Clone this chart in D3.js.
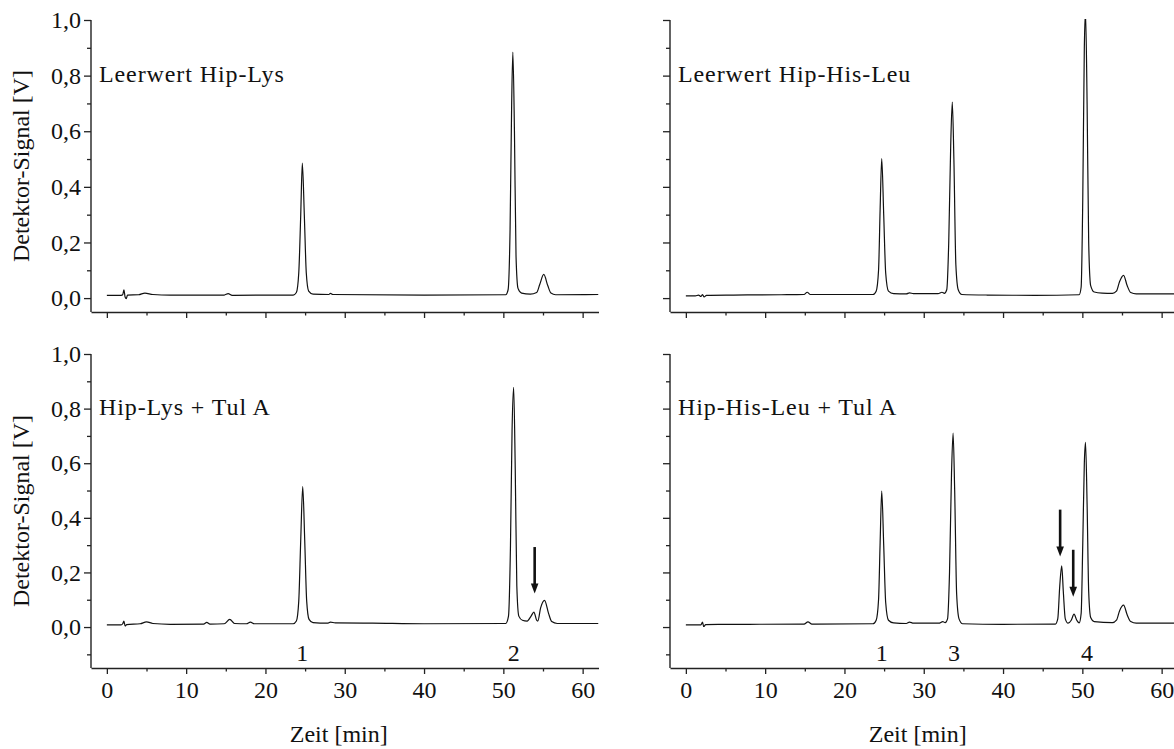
<!DOCTYPE html>
<html>
<head>
<meta charset="utf-8">
<script src="https://cdn.jsdelivr.net/npm/d3@7"></script>
<style>
  body { margin: 0; background: #fff; }
  svg text { font-family: "Liberation Serif", "DejaVu Serif", serif !important; fill: #111; }
</style>
</head>
<body>
<svg id="chart" width="1174" height="749"></svg>
<script>
// chromatogram traces, [time in min, signal in V]
const leerwertHipLys = [
  [0,0.010],[1.8,0.010],[2.0,0.012],[2.15,0.030],[2.3,0.004],[2.45,-0.002],[2.6,0.011],[4.0,0.012],[4.8,0.018],[5.8,0.013],
  [8,0.011],[14.8,0.011],[15.3,0.016],[15.8,0.010],[23.5,0.011],
  [23.9,0.02],[24.2,0.09],[24.45,0.30],[24.65,0.485],[24.9,0.30],[25.15,0.09],[25.45,0.025],[26.0,0.014],
  [28.0,0.013],[28.2,0.017],[28.5,0.013],[40,0.011],[50.3,0.012],
  [50.6,0.03],[50.85,0.25],[51.05,0.70],[51.2,0.885],[51.4,0.60],[51.6,0.15],[51.85,0.035],[52.3,0.018],[53.4,0.014],
  [54.2,0.02],[54.6,0.05],[55.1,0.085],[55.6,0.045],[56.0,0.018],[56.6,0.012],[62,0.013]
];
const leerwertHipHisLeu = [
  [0,0.008],[1.2,0.008],[1.6,0.011],[1.9,0.006],[2.1,0.013],[2.3,0.004],[2.6,0.010],[6,0.011],[12,0.012],
  [14.9,0.013],[15.3,0.021],[15.7,0.013],[23.6,0.013],
  [24.0,0.025],[24.3,0.10],[24.5,0.32],[24.7,0.502],[24.95,0.30],[25.2,0.09],[25.55,0.025],[26.2,0.016],
  [27.8,0.015],[28.2,0.019],[28.7,0.016],[31.8,0.016],[32.3,0.021],[32.6,0.017],
  [32.9,0.03],[33.15,0.2],[33.4,0.55],[33.6,0.705],[33.8,0.5],[34.05,0.12],[34.35,0.03],[34.8,0.013],
  [38,0.011],[44,0.010],[49.6,0.012],
  [49.85,0.04],[50.05,0.35],[50.25,0.9],[50.4,1.03],[50.6,0.7],[50.8,0.2],[51.05,0.045],[51.5,0.022],[52.5,0.018],[53.8,0.017],
  [54.3,0.025],[54.7,0.06],[55.2,0.082],[55.65,0.045],[56.1,0.02],[56.8,0.015],[62,0.015]
];
const hipLysTulA = [
  [0,0.008],[1.8,0.008],[2.0,0.012],[2.15,0.022],[2.3,0.004],[2.5,0.009],[4.2,0.012],[5.0,0.019],[5.8,0.013],[8,0.010],
  [12.2,0.011],[12.6,0.017],[13.0,0.011],[14.8,0.012],[15.5,0.028],[16.1,0.013],[17.6,0.012],[18.1,0.018],[18.6,0.012],[23.5,0.012],
  [23.9,0.022],[24.2,0.095],[24.45,0.32],[24.7,0.514],[24.95,0.32],[25.2,0.095],[25.5,0.028],[26.0,0.016],
  [27.8,0.014],[28.2,0.018],[28.8,0.015],[33.5,0.014],[40,0.012],[50.3,0.013],
  [50.65,0.04],[50.9,0.3],[51.1,0.72],[51.3,0.878],[51.5,0.58],[51.7,0.15],[51.95,0.04],[52.4,0.025],[53.0,0.022],
  [53.5,0.04],[53.85,0.055],[54.2,0.025],[54.35,0.022],[54.7,0.07],[55.2,0.098],[55.7,0.05],[56.1,0.02],[56.8,0.013],[62,0.013]
];
const hipHisLeuTulA = [
  [0,0.008],[1.9,0.008],[2.1,0.018],[2.25,0.002],[2.5,0.009],[8,0.010],[14.9,0.011],[15.4,0.019],[15.9,0.011],[23.6,0.012],
  [24.0,0.025],[24.3,0.10],[24.5,0.31],[24.7,0.498],[24.95,0.30],[25.2,0.09],[25.55,0.025],[26.2,0.015],
  [27.8,0.013],[28.2,0.018],[28.7,0.014],[31.9,0.014],[32.4,0.02],[32.7,0.016],
  [33.0,0.03],[33.25,0.2],[33.5,0.56],[33.7,0.71],[33.9,0.5],[34.15,0.12],[34.45,0.03],[34.9,0.012],
  [40,0.010],[46.6,0.011],
  [46.9,0.03],[47.15,0.15],[47.4,0.224],[47.6,0.13],[47.85,0.03],[48.2,0.014],
  [48.6,0.025],[48.95,0.047],[49.3,0.025],[49.6,0.015],
  [49.85,0.05],[50.05,0.3],[50.25,0.6],[50.4,0.676],[50.6,0.45],[50.8,0.13],[51.05,0.035],[51.5,0.02],[53.8,0.016],
  [54.3,0.025],[54.7,0.06],[55.2,0.08],[55.65,0.045],[56.1,0.02],[56.8,0.014],[62,0.014]
];

const panelTitles = ["Leerwert Hip-Lys", "Leerwert Hip-His-Leu", "Hip-Lys + Tul A", "Hip-His-Leu + Tul A"];

// peak numbers under the lower traces: [time, signal position, text]
const peakNumbersLys = [[24.65, -0.095, "1"], [51.3, -0.095, "2"]];
const peakNumbersHisLeu = [[24.7, -0.095, "1"], [33.8, -0.095, "3"], [50.6, -0.095, "4"]];

// arrows: [time, from signal, to signal]
const arrowsLys = [[53.95, 0.293, 0.123]];
const arrowsHisLeu = [[47.2, 0.43, 0.258], [48.85, 0.283, 0.111]];

const xMajor = [0, 10, 20, 30, 40, 50, 60];
const xMinor = [5, 15, 25, 35, 45, 55];
const yMajor = [0, 0.2, 0.4, 0.6, 0.8, 1.0];
const yMinorTop = [0.1, 0.3, 0.5, 0.7, 0.9];
const yMinorBottom = [-0.1, 0.1, 0.3, 0.5, 0.7, 0.9];

const svg = d3.select("#chart");
const fmt = d => d3.format(".1f")(d).replace(".", ",");
const FONT = '"Liberation Serif", "DejaVu Serif", serif';

const W = 507.5;
const rows = [
  { yDom: [-0.05, 1.0], y0: 312, y1: 20, minor: yMinorTop, xLabels: false },
  { yDom: [-0.15, 1.0], y0: 668, y1: 354, minor: yMinorBottom, xLabels: true }
];
const cols = [{ x0: 91, yLabels: true }, { x0: 670, yLabels: false }];

const panels = [
  { r: 0, c: 0, data: leerwertHipLys, title: panelTitles[0], nums: [], arrows: [] },
  { r: 0, c: 1, data: leerwertHipHisLeu, title: panelTitles[1], nums: [], arrows: [] },
  { r: 1, c: 0, data: hipLysTulA, title: panelTitles[2], nums: peakNumbersLys, arrows: arrowsLys },
  { r: 1, c: 1, data: hipHisLeuTulA, title: panelTitles[3], nums: peakNumbersHisLeu, arrows: arrowsHisLeu }
];

panels.forEach((p, i) => {
  const row = rows[p.r], col = cols[p.c];
  const x = d3.scaleLinear().domain([-2, 62]).range([col.x0, col.x0 + W]);
  const y = d3.scaleLinear().domain(row.yDom).range([row.y0, row.y1]);
  const g = svg.append("g").attr("font-family", FONT);

  g.append("clipPath").attr("id", "clip" + i).append("rect")
    .attr("x", col.x0).attr("y", row.y1 - 1).attr("width", W).attr("height", row.y0 - row.y1 + 1);

  // trace
  const line = d3.line().x(d => x(d[0])).y(d => y(d[1])).curve(d3.curveMonotoneX);
  g.append("path").datum(p.data).attr("d", line)
    .attr("fill", "none").attr("stroke", "#111").attr("stroke-width", 1.2)
    .attr("stroke-linejoin", "round").attr("clip-path", `url(#clip${i})`);

  // axes
  g.append("g").attr("transform", `translate(0,${row.y0})`)
    .call(d3.axisBottom(x).tickValues(xMajor).tickSize(6).tickSizeOuter(0).tickPadding(7)
      .tickFormat(row.xLabels ? d3.format("d") : ""));
  g.append("g").attr("transform", `translate(0,${row.y0})`)
    .call(d3.axisBottom(x).tickValues(xMinor).tickSize(3.5).tickFormat(""))
    .call(s => s.select(".domain").remove());
  const ay = g.append("g").attr("transform", `translate(${col.x0},0)`)
    .call(d3.axisLeft(y).tickValues(yMajor).tickSize(7).tickSizeOuter(0).tickPadding(3)
      .tickFormat(col.yLabels ? fmt : ""));
  g.append("g").attr("transform", `translate(${col.x0},0)`)
    .call(d3.axisLeft(y).tickValues(row.minor).tickSize(4).tickFormat(""))
    .call(s => s.select(".domain").remove());

  // y axis runs from the 1,0 tick down to the x axis
  ay.select(".domain").attr("d", `M0,${y(1.0)}V${row.y0}`);

  g.selectAll("g").attr("font-family", FONT);
  g.selectAll(".domain").attr("stroke", "#222").attr("stroke-width", 1.4);
  g.selectAll(".tick line").attr("stroke", "#222").attr("stroke-width", 1.3);
  g.selectAll(".tick text").style("font-size", "24px").style("font-family", FONT).attr("fill", "#111");

  // panel title
  g.append("text").attr("x", col.x0 + 8).attr("y", y(0.8) + 6)
    .style("font-family", FONT).style("font-size", "24px").style("letter-spacing", "0.9px").text(p.title);

  // peak numbers
  g.selectAll(".num").data(p.nums).join("text")
    .attr("x", d => x(d[0])).attr("y", d => y(d[1])).attr("dy", "0.35em")
    .attr("text-anchor", "middle").style("font-family", FONT).style("font-size", "24px").text(d => d[2]);

  // arrows
  p.arrows.forEach(a => {
    const ax0 = x(a[0]), yA = y(a[1]), yB = y(a[2]);
    g.append("line").attr("x1", ax0).attr("x2", ax0).attr("y1", yA).attr("y2", yB - 8)
      .attr("stroke", "#111").attr("stroke-width", 2.6);
    g.append("path").attr("d", `M${ax0 - 3.8},${yB - 10}L${ax0 + 3.8},${yB - 10}L${ax0},${yB}Z`).attr("fill", "#111");
  });

  // axis titles
  if (col.yLabels) {
    g.append("text").attr("transform", `translate(21,${(row.y0 + row.y1) / 2}) rotate(-90)`)
      .attr("text-anchor", "middle").attr("dy", "0.35em").style("font-family", FONT).style("font-size", "24px")
      .text("Detektor-Signal [V]");
  }
  if (row.xLabels) {
    g.append("text").attr("x", col.x0 + W / 2 - 6).attr("y", 742)
      .attr("text-anchor", "middle").style("font-family", FONT).style("font-size", "24px").text("Zeit [min]");
  }
});
</script>
</body>
</html>
